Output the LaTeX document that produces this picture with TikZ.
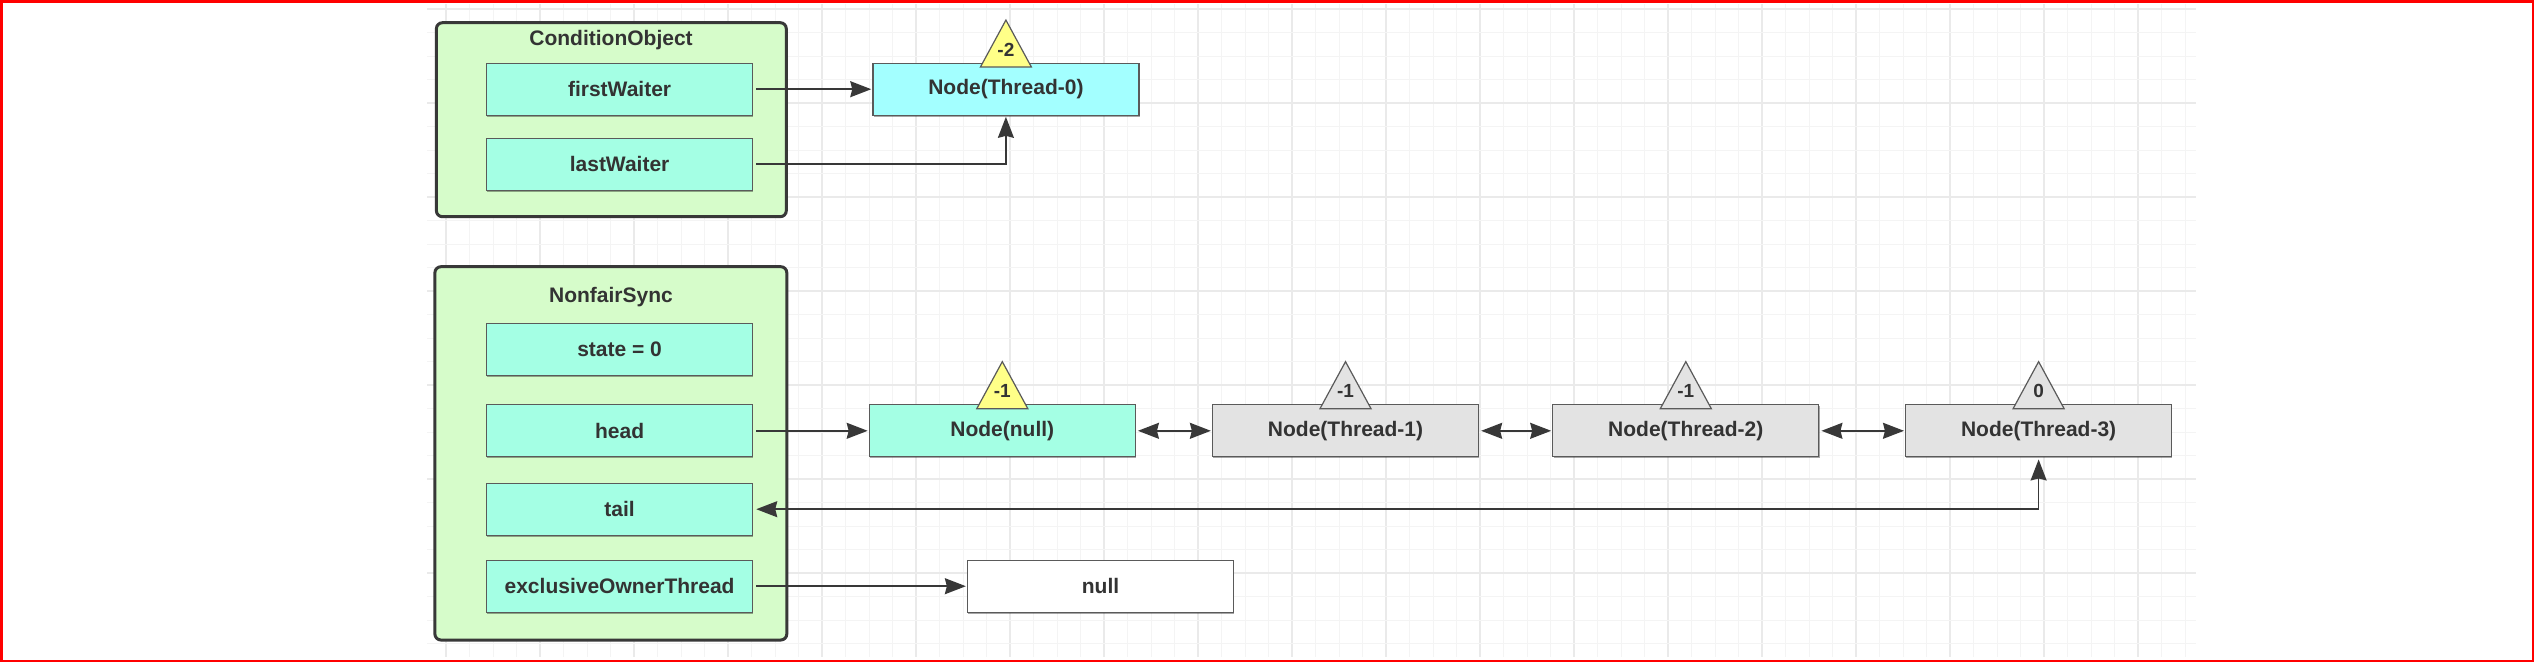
\documentclass[tikz,border=0pt]{standalone}
\usepackage{fontspec}
\setmainfont{Liberation Sans}
\usetikzlibrary{arrows.meta,shadows,calc}
\definecolor{frameRed}{HTML}{FF0000}
\definecolor{gridMinor}{HTML}{F4F4F4}
\definecolor{gridMajor}{HTML}{EAEAEA}
\definecolor{contFill}{HTML}{D6FCCA}
\definecolor{contLine}{HTML}{383838}
\definecolor{fieldFill}{HTML}{A4FFE4}
\definecolor{cyanFill}{HTML}{A3FFFF}
\definecolor{grayFill}{HTML}{E3E3E3}
\definecolor{yelFill}{HTML}{FFFF88}
\definecolor{boxLine}{HTML}{5A5A5A}
\definecolor{txt}{HTML}{333333}
\definecolor{arr}{HTML}{383838}
\tikzset{
  container/.style={draw=contLine, line width=3pt, rounded corners=6pt, fill=contFill},
  boxbase/.style={draw=boxLine, line width=1.3pt, minimum width=266pt, minimum height=52pt,
    inner sep=0pt, text=txt, font=\fontsize{21}{24}\selectfont\bfseries,
    drop shadow={shadow xshift=0.8pt, shadow yshift=-1.6pt, fill=black, opacity=0.35}},
  fieldbox/.style={boxbase, fill=fieldFill},
  cyanbox/.style={boxbase, fill=cyanFill},
  graybox/.style={boxbase, fill=grayFill},
  whitebox/.style={boxbase, fill=white},
  titletext/.style={text=txt, font=\fontsize{21}{24}\selectfont\bfseries},
  ahead/.tip={Stealth[length=21pt, width=16pt, inset=2pt]},
  conn/.style={draw=arr, line width=1.5pt, -ahead},
  biconn/.style={draw=arr, line width=1.5pt, ahead-ahead},
  tri/.style={draw=boxLine, line width=1.2pt, line join=miter},
  trilabel/.style={text=txt, inner sep=0pt, font=\fontsize{19}{22}\selectfont\bfseries}
}
\begin{document}
\begin{tikzpicture}[x=1pt,y=-1pt]
\useasboundingbox (0,0) rectangle (2534,662);
\fill[white] (0,0) rectangle (2534,662);
% grid
\foreach \i in {0,...,74}{
  \pgfmathtruncatemacro{\m}{mod(\i,4)}
  \ifnum\m=0
    \draw[gridMajor, line width=1.2pt] ({446+23.5*\i},4) -- ({446+23.5*\i},657);
  \else
    \draw[gridMinor, line width=1pt] ({446+23.5*\i},4) -- ({446+23.5*\i},657);
  \fi
}
\foreach \j in {0,...,27}{
  \pgfmathtruncatemacro{\m}{mod(\j,4)}
  \ifnum\m=0
    \draw[gridMajor, line width=1.2pt] (427,{9+23.5*\j}) -- (2196,{9+23.5*\j});
  \else
    \draw[gridMinor, line width=1pt] (427,{9+23.5*\j}) -- (2196,{9+23.5*\j});
  \fi
}
% red frame
\draw[frameRed, line width=2.5pt] (1.25,1.25) rectangle (2532.75,660.75);

% ConditionObject
\draw[container] (436.4,22.7) rectangle (786.3,216.7);
\node[titletext] (coTitle) at (611,40) {ConditionObject};
\node[fieldbox] (fw) at (619.6,89.2) {firstWaiter};
\node[fieldbox] (lw) at (619.6,164.2) {lastWaiter};
\node[cyanbox] (t0) at (1005.9,89.2) {Node(Thread-0)};

% NonfairSync
\draw[container] (434.9,266.7) rectangle (786.8,640);
\node[titletext] (nsTitle) at (611,296.7) {NonfairSync};
\node[fieldbox] (st) at (619.6,349.3) {state = 0};
\node[fieldbox] (hd) at (619.6,430.8) {head};
\node[fieldbox] (tl) at (619.6,509.2) {tail};
\node[fieldbox] (ex) at (619.6,586.2) {exclusiveOwnerThread};

\node[fieldbox] (nn) at (1002.3,430.8) {Node(null)};
\node[graybox] (t1) at (1345.5,430.8) {Node(Thread-1)};
\node[graybox] (t2) at (1685.8,430.8) {Node(Thread-2)};
\node[graybox] (t3) at (2038.6,430.8) {Node(Thread-3)};
\node[whitebox] (nl) at (1100.5,586.2) {null};

% connectors
\draw[conn] ([xshift=3pt]fw.east) -- ([xshift=-1pt]t0.west);
\draw[conn] ([xshift=3pt]lw.east) -| ([yshift=-1pt]t0.south);
\draw[conn] ([xshift=3pt]hd.east) -- ([xshift=-1pt]nn.west);
\draw[biconn] ([xshift=2pt]nn.east) -- ([xshift=-1pt]t1.west);
\draw[biconn] ([xshift=2pt]t1.east) -- ([xshift=-1pt]t2.west);
\draw[biconn] ([xshift=2pt]t2.east) -- ([xshift=-1pt]t3.west);
\draw[biconn] ([yshift=-2pt]t3.south) |- ([xshift=3pt]tl.east);
\draw[conn] ([xshift=3pt]ex.east) -- ([xshift=-1pt]nl.west);

% status triangles
\draw[tri, fill=yelFill, shift={(t0.north)}] (-25.5,4.5) -- (0,-42.5) -- (25.5,4.5) -- cycle;
\node[trilabel] (s0) at ($(t0.north)+(0,-13)$) {-2};
\draw[tri, fill=yelFill, shift={(nn.north)}] (-25.5,4.5) -- (0,-42.5) -- (25.5,4.5) -- cycle;
\node[trilabel] (sn) at ($(nn.north)+(0,-13)$) {-1};
\draw[tri, fill=grayFill, shift={(t1.north)}] (-25.5,4.5) -- (0,-42.5) -- (25.5,4.5) -- cycle;
\node[trilabel] (s1) at ($(t1.north)+(0,-13)$) {-1};
\draw[tri, fill=grayFill, shift={(t2.north)}] (-25.5,4.5) -- (0,-42.5) -- (25.5,4.5) -- cycle;
\node[trilabel] (s2) at ($(t2.north)+(0,-13)$) {-1};
\draw[tri, fill=grayFill, shift={(t3.north)}] (-25.5,4.5) -- (0,-42.5) -- (25.5,4.5) -- cycle;
\node[trilabel] (s3) at ($(t3.north)+(0,-13)$) {0};
\end{tikzpicture}
\end{document}
